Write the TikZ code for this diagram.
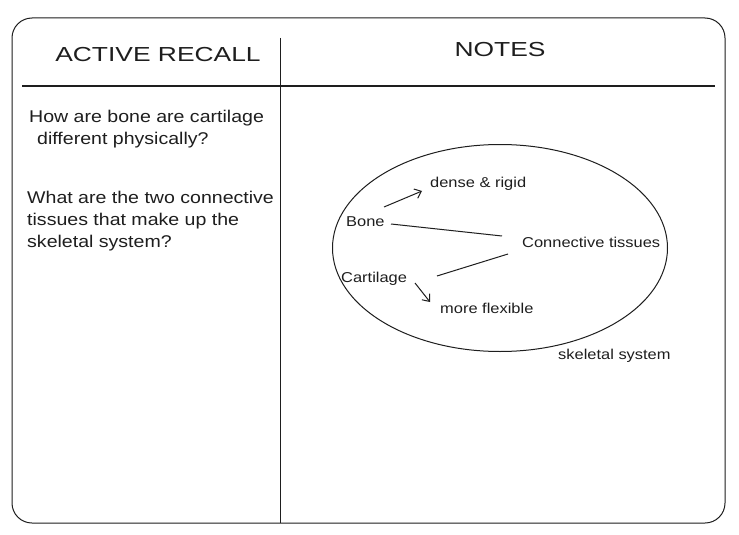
\documentclass[tikz,border=0pt]{standalone}
\usepackage{fontspec}
\setmainfont[FakeStretch=1.15]{Liberation Sans}
\newfontfamily\headfont[FakeStretch=1.3]{Liberation Sans}
\usetikzlibrary{arrows.meta,shapes.geometric}
\definecolor{ink}{HTML}{1E1E1E}
\begin{document}
\begin{tikzpicture}[x=1pt,y=-1pt,
  ink/.style={draw=ink,line width=1pt},
  txt/.style={inner sep=0pt,text=ink,font=\fontsize{14.3}{17}\selectfont},
  body/.style={txt,align=left,font=\fontsize{17}{22}\selectfont},
  head/.style={txt,font=\headfont\fontsize{20.3}{26}\selectfont},
  arr/.style={ink,-{Straight Barb[length=6pt,width=10pt]}}]
\useasboundingbox (0,0) rectangle (739,535);
\fill[white] (0,0) rectangle (739,535);
\draw[ink,rounded corners=20pt] (12,18) rectangle (725,523);
\coordinate (vt) at (280,38);
\coordinate (vb) at (280,523);
\draw[ink] (vt) -- (vb);
\coordinate (hl) at (22,86);
\coordinate (hr) at (715,86);
\draw[ink] (hl) -- (hr);
\node[head] (ar) at (158,55) {ACTIVE RECALL};
\node[head] (notes) at (500,50) {NOTES};
\node[body,anchor=north west] (q1) at (29,110) {How are bone are cartilage\\\hspace*{8pt}different physically?};
\node[body,anchor=north west] (q2) at (27,191) {What are the two connective\\tissues that make up the\\skeletal system?};
\node[ellipse,draw=ink,line width=1pt,minimum width=335pt,minimum height=207pt,inner sep=0pt] (el) at (500,248) {};
\node[txt,anchor=west] (dense) at (430,184) {dense \& rigid};
\node[txt,anchor=west] (bone) at (346,222) {Bone};
\node[txt,anchor=west] (conn) at (522,242) {Connective tissues};
\node[txt,anchor=west] (cart) at (341,279) {Cartilage};
\node[txt,anchor=west] (flex) at (440,308) {more flexible};
\node[txt,anchor=west] (skel) at (558,356) {skeletal system};
\draw[arr] ([shift={(38,-15)}]bone.west) -- ([shift={(-8,7)}]dense.west);
\draw[ink] ([shift={(45,2)}]bone.west) -- ([shift={(-20,-6)}]conn.west);
\draw[ink] ([shift={(-14,12)}]conn.west) -- ([shift={(96,-3)}]cart.west);
\draw[arr] ([shift={(74,4)}]cart.west) -- ([shift={(-10,-6)}]flex.west);
\end{tikzpicture}
\end{document}
